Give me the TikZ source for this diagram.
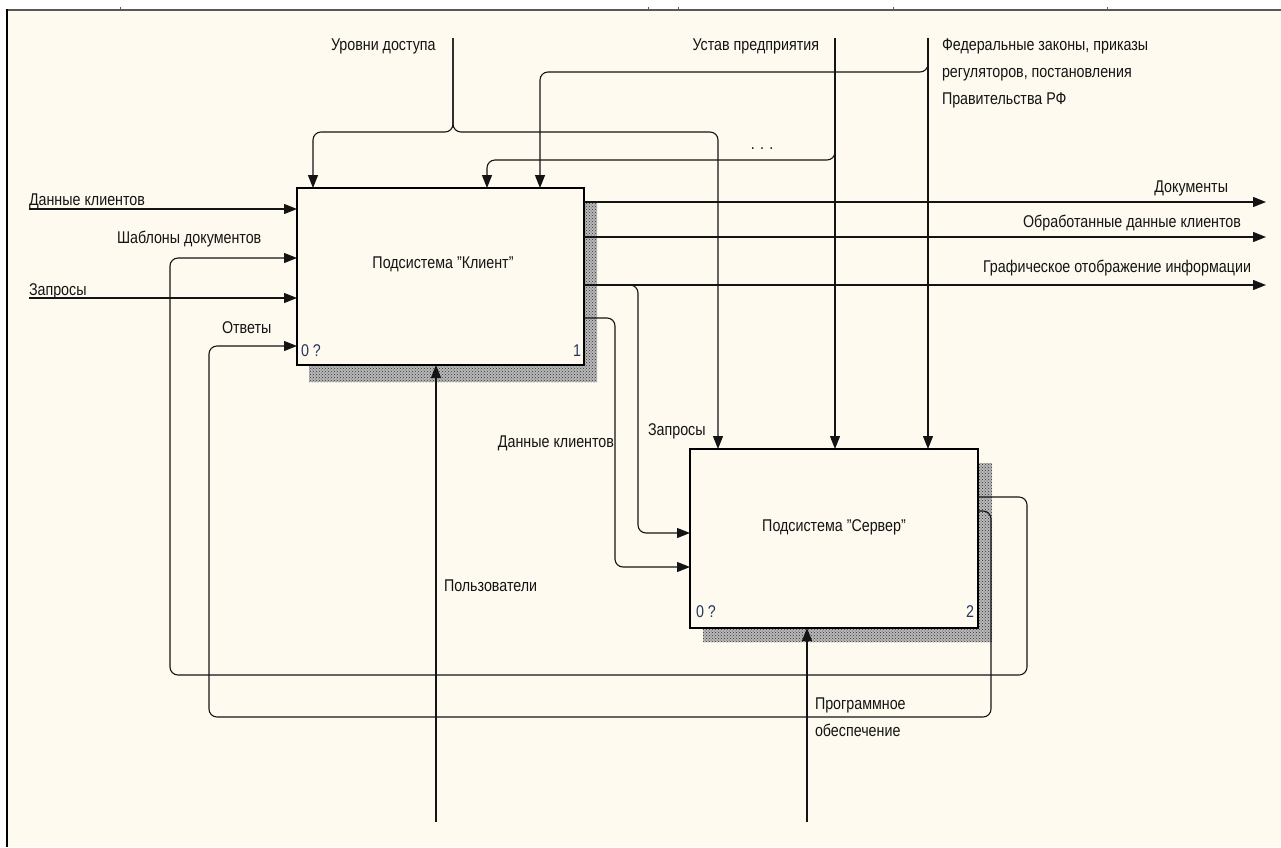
\documentclass[tikz,border=0pt]{standalone}
\usepackage{fontspec}
\setmainfont{Liberation Sans}[FakeStretch=0.84]
\usetikzlibrary{arrows.meta,patterns}
\definecolor{paper}{RGB}{254,250,239}
\definecolor{ink}{RGB}{20,20,20}
\definecolor{numink}{RGB}{36,54,96}
\definecolor{frameline}{RGB}{90,90,82}
\begin{document}
\begin{tikzpicture}[x=1pt,y=-1pt,
  every node/.style={inner sep=0pt, outer sep=0pt, font=\fontsize{17}{27}\selectfont, text=ink},
  lbl/.style={anchor=base west},
  lblr/.style={anchor=base east},
  func/.style={draw=black, line width=2.8pt, fill=paper, minimum width=#1},
  shadebase/.style={fill=black!28},
  shade/.style={pattern=crosshatch dots, pattern color=black!80},
  arr/.style={draw=ink, line width=1.1pt, -{Triangle[length=13pt,width=10pt]}, rounded corners=8pt},
  num/.style={text=numink}]
\useasboundingbox (0,0) rectangle (1281,847);
% sheet and frame
\fill[white] (0,0) rectangle (1281,847);
\fill[paper] (7,10) rectangle (1281,847);
\draw[frameline, line width=2pt] (7,9.5) -- (1281,9.5);
\draw[black, line width=2pt] (6.5,9) -- (6.5,847);
\foreach \tx in {120,648,678,893,1107} \draw[frameline, line width=1pt] (\tx,7) -- (\tx,9);

% drop shadows of the activity boxes
\fill[shadebase] (309,203) rectangle (597,382);
\fill[shade] (309,203) rectangle (597,382);
\fill[shadebase] (703,463) rectangle (992,642);
\fill[shade] (703,463) rectangle (992,642);

% activity boxes
\node[func=287pt, minimum height=177pt] (b1) at (440.5,276.5) {};
\node[func=288pt, minimum height=179pt] (b2) at (834,538.5) {};
\node (t1) at (443,264) {Подсистема "Клиент"};
\node (t2) at (834,527) {Подсистема "Сервер"};
\node[num, lbl] (n1a) at (301,356) {0 ?};
\node[num, lblr] (n1b) at (581,356) {1};
\node[num, lbl] (n2a) at (696,617) {0 ?};
\node[num, lblr] (n2b) at (974,617) {2};

% inputs of box 1
\coordinate (iDK) at (29,209);
\coordinate (iZ) at (29,298);
\draw[arr] (iDK) -- (iDK -| b1.west);
\draw[arr] (iZ) -- (iZ -| b1.west);
\node[lbl] (lDK) at (29,205) {Данные клиентов};
\node[lbl] (lZ) at (29,295) {Запросы};
\node[lbl] (lSH) at (117,243) {Шаблоны документов};
\node[lbl] (lOT) at (222,333) {Ответы};

% controls
\coordinate (cU) at (453,38);
\coordinate (cUl) at (313,132);
\coordinate (cUr) at (718,132);
\draw[arr] (cU) -- (cU |- cUl) -- (cUl) -- (cUl |- b1.north);
\draw[arr] (cU) -- (cU |- cUr) -- (cUr) -- (cUr |- b2.north);
\node[lbl] (lU) at (331,50) {Уровни доступа};

\coordinate (cS) at (835,38);
\coordinate (cSb) at (487,160);
\draw[arr] (cS) -- (cS |- b2.north);
\draw[arr] (cS) -- (cS |- cSb) -- (cSb) -- (cSb |- b1.north);
\node[lblr] (lS) at (819,50) {Устав предприятия};
\node (dots) at (762,149) {. . .};

\coordinate (cF) at (928,38);
\coordinate (cFb) at (540,72);
\draw[arr] (cF) -- (cF |- b2.north);
\draw[arr] (cF) -- (cF |- cFb) -- (cFb) -- (cFb |- b1.north);
\node[lbl] (lF1) at (942,50) {Федеральные законы, приказы};
\node[lbl] (lF2) at (942,77) {регуляторов, постановления};
\node[lbl] (lF3) at (942,104) {Правительства РФ};

% outputs of box 1
\coordinate (oD) at (1266,202);
\coordinate (oO) at (1266,237);
\coordinate (oG) at (1266,285);
\draw[arr] (oD -| b1.east) -- (oD);
\draw[arr] (oO -| b1.east) -- (oO);
\draw[arr] (oG -| b1.east) -- (oG);
\node[lblr] (lD) at (1228,192) {Документы};
\node[lblr] (lO) at (1241,227) {Обработанные данные клиентов};
\node[lblr] (lG) at (1251,272) {Графическое отображение информации};

% box 1 -> box 2
\coordinate (qz) at (638,533);
\draw[arr] (oG -| b1.east) -- (qz |- oG) -- (qz) -- (qz -| b2.west);
\coordinate (qd) at (615,318);
\coordinate (qd2) at (615,567);
\draw[arr] (qd -| b1.east) -- (qd) -- (qd2) -- (qd2 -| b2.west);
\node[lbl] (lqz) at (648,435) {Запросы};
\node[lblr] (lqd) at (614,447) {Данные клиентов};

% mechanisms
\coordinate (mP) at (436,822);
\coordinate (mS) at (807,822);
\draw[arr] (mP) -- (mP |- b1.south);
\draw[arr] (mS) -- (mS |- b2.south);
\node[lbl] (lP) at (444,591) {Пользователи};
\node[lbl] (lPO1) at (815,709) {Программное};
\node[lbl] (lPO2) at (815,736) {обеспечение};

% feedback from box 2 to box 1
\coordinate (fo) at (1027,497);
\coordinate (fo1) at (1027,675);
\coordinate (fo2) at (170,675);
\coordinate (fo3) at (170,258);
\draw[arr] (fo -| b2.east) -- (fo) -- (fo1) -- (fo2) -- (fo3) -- (fo3 -| b1.west);
\coordinate (fi) at (991,511);
\coordinate (fi1) at (991,717);
\coordinate (fi2) at (209,717);
\coordinate (fi3) at (209,346);
\draw[arr] (fi -| b2.east) -- (fi) -- (fi1) -- (fi2) -- (fi3) -- (fi3 -| b1.west);
\end{tikzpicture}
\end{document}
